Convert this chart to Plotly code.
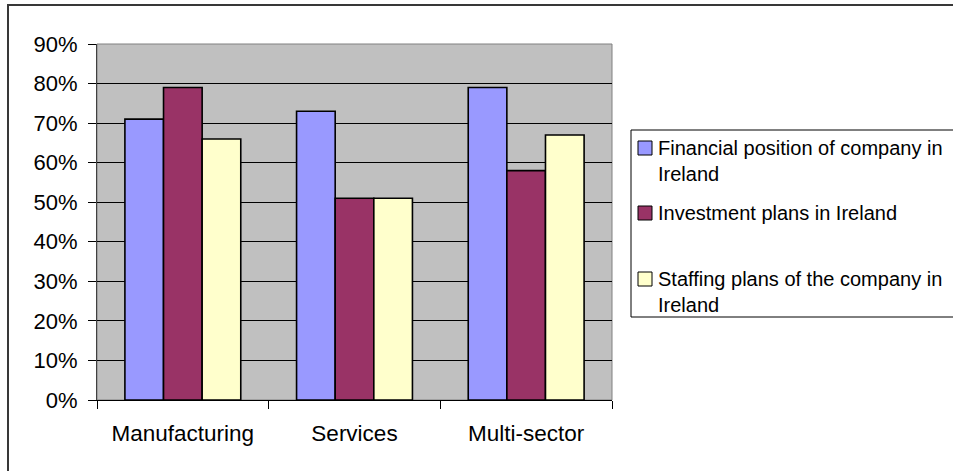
import plotly.graph_objects as go

# Survey results by sector (percent of respondents)
categories = ["Manufacturing", "Services", "Multi-sector"]
financial_position = [71, 73, 79]
investment_plans = [79, 51, 58]
staffing_plans = [66, 51, 67]

series_names = [
    "Financial position of company in Ireland",
    "Investment plans in Ireland",
    "Staffing plans of the company in Ireland",
]
# Legend text wrapped the way the legend box shows it
legend_lines = [
    ["Financial position of company in", "Ireland"],
    ["Investment plans in Ireland"],
    ["Staffing plans of the company in", "Ireland"],
]
series_colors = ["#9999FF", "#993366", "#FFFFCC"]
y_tick_values = [0, 10, 20, 30, 40, 50, 60, 70, 80, 90]
y_tick_labels = [f"{v}%" for v in y_tick_values]

W, H = 953, 471
ML, MR, MT, MB = 97, 341, 44, 71
PW = W - ML - MR
PH = H - MT - MB
FONT = "Liberation Sans, Arial, sans-serif"


def fx(px):
    """Pixel x -> paper x."""
    return (px - ML) / PW


def fy(py):
    """Pixel y (from top) -> paper y."""
    return (H - MB - py) / PH


fig = go.Figure()
for name, values, color in zip(series_names,
                               [financial_position, investment_plans, staffing_plans],
                               series_colors):
    fig.add_trace(go.Bar(
        x=categories, y=values, name=name,
        marker=dict(color=color, line=dict(color="black", width=1.6)),
        showlegend=False,
    ))

shapes = []
# chart frame
shapes.append(dict(type="rect", xref="paper", yref="paper",
                   x0=fx(8), x1=fx(1100), y0=fy(5), y1=fy(600),
                   line=dict(color="#383838", width=2), layer="above"))
# plot area border (top/right edges in grey)
shapes.append(dict(type="rect", xref="paper", yref="paper",
                   x0=0, x1=1, y0=0, y1=1,
                   line=dict(color="#808080", width=1), layer="below"))
# legend box
shapes.append(dict(type="rect", xref="paper", yref="paper",
                   x0=fx(631), x1=fx(1100), y0=fy(130), y1=fy(317),
                   line=dict(color="black", width=1), fillcolor="white", layer="above"))

annotations = []
item_centers = [148, 213, 279]
line_pitch = 26
for lines, color, cy in zip(legend_lines, series_colors, item_centers):
    shapes.append(dict(type="rect", xref="paper", yref="paper",
                       x0=fx(638), x1=fx(652), y0=fy(cy - 7), y1=fy(cy + 7),
                       line=dict(color="black", width=1), fillcolor=color, layer="above"))
    for i, line in enumerate(lines):
        annotations.append(dict(
            xref="paper", yref="paper", x=fx(656), y=fy(cy + i * line_pitch),
            xanchor="left", yanchor="middle", showarrow=False, text=line,
            font=dict(family=FONT, size=20, color="black"),
        ))

fig.update_layout(
    width=W, height=H,
    margin=dict(l=ML, r=MR, t=MT, b=MB, pad=0),
    paper_bgcolor="white",
    plot_bgcolor="#C0C0C0",
    barmode="group",
    bargap=0.325,
    bargroupgap=0,
    font=dict(family=FONT, size=22, color="black"),
    shapes=shapes,
    annotations=annotations,
    xaxis=dict(
        type="category",
        showline=True, linecolor="black", linewidth=1,
        ticks="outside", ticklen=8, tickcolor="black", tickwidth=1,
        tickson="boundaries",
        showgrid=False,
        tickfont=dict(family=FONT, size=22.5, color="black"),
        ticklabelstandoff=13,
    ),
    yaxis=dict(
        range=[0, 90], tickmode="array",
        tickvals=y_tick_values, ticktext=y_tick_labels,
        showline=True, linecolor="#404040", linewidth=1,
        ticks="outside", ticklen=8, tickcolor="black", tickwidth=1,
        showgrid=True, gridcolor="black", gridwidth=1,
        zeroline=False,
        tickfont=dict(family=FONT, size=22, color="black"),
        ticklabelstandoff=6,
    ),
)

fig.write_html("out.html")
